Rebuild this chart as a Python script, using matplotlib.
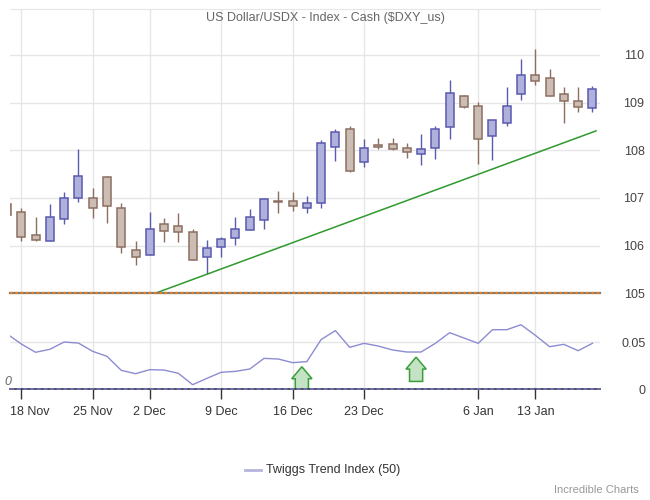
import numpy as np
import pandas as pd
import matplotlib
matplotlib.use("Agg")
import matplotlib.pyplot as plt
import matplotlib.transforms as mtransforms
from matplotlib.patches import FancyArrow

plt.rcParams['font.family'] = ['Liberation Sans', 'DejaVu Sans']

TITLE = "US Dollar/USDX - Index - Cash (\\$DXY_us)"

dates = ["2024-11-15", "2024-11-18", "2024-11-19", "2024-11-20", "2024-11-21", "2024-11-22",
         "2024-11-25", "2024-11-26", "2024-11-27", "2024-11-29",
         "2024-12-02", "2024-12-03", "2024-12-04", "2024-12-05", "2024-12-06",
         "2024-12-09", "2024-12-10", "2024-12-11", "2024-12-12", "2024-12-13",
         "2024-12-16", "2024-12-17", "2024-12-18", "2024-12-19", "2024-12-20",
         "2024-12-23", "2024-12-24", "2024-12-26", "2024-12-27",
         "2024-12-30", "2024-12-31", "2025-01-02", "2025-01-03",
         "2025-01-06", "2025-01-07", "2025-01-08", "2025-01-10",
         "2025-01-13", "2025-01-14", "2025-01-15", "2025-01-16", "2025-01-17"]

opens = [106.87, 106.70, 106.22, 106.09, 106.55, 107.01, 106.99, 107.43, 106.78, 105.91,
         105.80, 106.45, 106.41, 106.28, 105.76, 105.97, 106.15, 106.32, 106.53, 106.93,
         106.93, 106.78, 106.89, 108.06, 108.44, 107.75, 108.11, 108.13, 108.04, 107.92,
         108.04, 108.48, 109.15, 108.92, 108.29, 108.57, 109.18, 109.57, 109.51, 109.18,
         109.03, 108.88]
highs = [106.95, 106.78, 106.60, 106.87, 107.13, 108.03, 107.20, 107.46, 106.89, 106.10,
         106.71, 106.57, 106.69, 106.34, 106.12, 106.18, 106.60, 106.77, 107.01, 107.15,
         107.13, 107.04, 108.22, 108.44, 108.50, 108.23, 108.25, 108.25, 108.15, 108.34,
         108.52, 109.48, 109.17, 109.01, 108.63, 109.32, 109.91, 110.12, 109.70, 109.32,
         109.32, 109.34]
lows = [106.55, 106.10, 106.09, 106.09, 106.45, 106.91, 106.57, 106.48, 105.84, 105.59,
        105.80, 106.07, 106.08, 105.69, 105.40, 105.77, 106.02, 106.32, 106.34, 106.69,
        106.72, 106.68, 106.80, 107.78, 107.55, 107.66, 108.02, 108.00, 107.83, 107.70,
        107.82, 108.23, 108.88, 107.72, 107.80, 108.52, 109.05, 109.36, 109.13, 108.57,
        108.80, 108.80]
closes = [106.64, 106.19, 106.11, 106.60, 106.99, 107.46, 106.80, 106.84, 105.98, 105.76,
          106.34, 106.30, 106.28, 105.69, 105.94, 106.13, 106.34, 106.60, 106.97, 106.91,
          106.83, 106.89, 108.15, 108.38, 107.57, 108.04, 108.08, 108.02, 107.96, 108.02,
          108.44, 109.20, 108.90, 108.23, 108.63, 108.94, 109.59, 109.45, 109.14, 109.03,
          108.90, 109.28]

# Twiggs Trend Index (50)
tti = [0.0590, 0.0482, 0.0393, 0.0425, 0.0503, 0.0492, 0.0403, 0.0350, 0.0200, 0.0164,
       0.0207, 0.0203, 0.0168, 0.0046, 0.0114, 0.0179, 0.0189, 0.0214, 0.0328, 0.0321,
       0.0282, 0.0293, 0.0530, 0.0625, 0.0446, 0.0489, 0.0460, 0.0418, 0.0396, 0.0396,
       0.0489, 0.0603, 0.0546, 0.0489, 0.0635, 0.0635, 0.0688, 0.0575, 0.0453, 0.0478,
       0.0410, 0.0489]

tick_dates = ["2024-11-18", "2024-11-25", "2024-12-02", "2024-12-09", "2024-12-16",
              "2024-12-23", "2025-01-06", "2025-01-13"]
signal_dates = ["2024-12-17", "2024-12-30"]

# trendline anchors (date, price)
trend_pts = [("2024-12-06", 105.40), ("2025-01-17", 108.38)]
support_level = 105.0

price_ticks = [105, 106, 107, 108, 109, 110]
tti_ticks = [0, 0.05]

UP_FILL, UP_EDGE = "#b0b0dd", "#5a5aae"
DN_FILL, DN_EDGE = "#cbbdb4", "#8c6f60"
GRID = "#e6e6e6"

idx = {d: i for i, d in enumerate(dates)}
x = np.arange(len(dates))
o, h, l, c = map(np.asarray, (opens, highs, lows, closes))
up = c >= o

fig = plt.figure(figsize=(6.5, 5), dpi=100)
ax = fig.add_axes([10 / 650, 1 - 293.3 / 500, 590 / 650, 284.3 / 500])
ax2 = fig.add_axes([10 / 650, 1 - 389 / 500, 590 / 650, 93.4 / 500], sharex=ax)

xlim = (0.21, 41.53)
tick_pos = [idx[d] for d in tick_dates]

# --- price panel
for a in (ax, ax2):
    for t in tick_pos:
        a.axvline(t, color=GRID, lw=1, zorder=0)
for p in price_ticks[1:]:
    ax.axhline(p, color=GRID, lw=1, zorder=0)

ax.vlines(x[up], l[up], h[up], color=UP_EDGE, lw=1, zorder=2)
ax.vlines(x[~up], l[~up], h[~up], color=DN_EDGE, lw=1, zorder=2)
body_lo = np.minimum(o, c)
body_h = np.maximum(np.abs(c - o), 0.01)
ax.bar(x[up], body_h[up], 0.56, bottom=body_lo[up], color=UP_FILL,
       edgecolor=UP_EDGE, lw=1.1, zorder=3)
ax.bar(x[~up], body_h[~up], 0.56, bottom=body_lo[~up], color=DN_FILL,
       edgecolor=DN_EDGE, lw=1.1, zorder=3)

(d0, p0), (d1, p1) = trend_pts
slope = (p1 - p0) / (idx[d1] - idx[d0])
tx0 = idx[d0] + (support_level - p0) / slope
tx = np.array([tx0, 41.25])
ax.plot(tx, p0 + slope * (tx - idx[d0]), color="#2e9a2e", lw=1.1, zorder=4)

ax.axhline(support_level, color="#7a7a7a", lw=1.6, zorder=5, clip_on=False)
ax.axhline(support_level, color="#e8801e", lw=1.6, ls=(0, (1.2, 1.2)), zorder=6, clip_on=False)

ax.set_xlim(*xlim)
ax.set_ylim(105, 110.965)
ax.set_yticks(price_ticks)
ax.yaxis.tick_right()
ax.tick_params(axis='y', length=0, pad=32, labelsize=9, labelcolor="#444")
for lab in ax.get_yticklabels():
    lab.set_ha('right')
ax.tick_params(axis='x', length=0, labelbottom=False)
for s in ("left", "right", "bottom"):
    ax.spines[s].set_visible(False)
ax.spines["top"].set_color(GRID)

ax.text(0.5, 1 - 18 / 500, TITLE, transform=fig.transFigure, ha='center', va='center',
        fontsize=9, color="#666")

# --- indicator panel
ax2.axhline(0.05, color=GRID, lw=1, zorder=0)
ax2.plot(x, tti, color="#8c8cd2", lw=1, zorder=3)

tti_arr = np.asarray(tti)
for d in signal_dates:
    i = idx[d]
    tip = tti_arr[i] - 0.0055
    arr = FancyArrow(i - 0.35, tip - 0.026, 0, 0.026, width=0.92, head_width=1.42,
                     head_length=0.0128, length_includes_head=True,
                     facecolor="#c4e3c4", edgecolor="#3a9e3a", lw=1.1, zorder=4)
    ax2.add_patch(arr)

ax2.axhline(0, color="#333", lw=1.2, zorder=5, clip_on=False)
ax2.axhline(0, color="#7272c8", lw=1.2, ls=(0, (2.5, 1.5)), zorder=6, clip_on=False)

ax2.set_ylim(0, 0.1)
ax2.set_yticks(tti_ticks)
ax2.set_yticklabels(["0", "0.05"])
ax2.yaxis.tick_right()
ax2.tick_params(axis='y', length=0, pad=33, labelsize=9, labelcolor="#444")
for lab in ax2.get_yticklabels():
    lab.set_ha('right')

ax2.set_xticks(tick_pos)
ax2.set_xticklabels([pd.Timestamp(d).strftime("%-d %b") for d in tick_dates])
ax2.tick_params(axis='x', length=7, width=1, color="#333", pad=5, labelsize=9,
                labelcolor="#333")
first = ax2.get_xticklabels()[0]
first.set_ha('left')
first.set_transform(first.get_transform() +
                    mtransforms.ScaledTranslation(-11.3 / 100, 0, fig.dpi_scale_trans))
for s in ax2.spines.values():
    s.set_visible(False)

ax2.text(4 / 650, 1 - 388 / 500, "0", transform=fig.transFigure, ha='left', va='bottom',
         fontsize=9, style='italic', color="#666")

# legend + credit
fig.add_artist(plt.Line2D([245 / 650, 261 / 650], [1 - 470 / 500] * 2, color="#b4b4de", lw=2))
fig.text(266 / 650, 1 - 470 / 500, "Twiggs Trend Index (50)", ha='left', va='center',
         fontsize=9, color="#333")
fig.text(639 / 650, 1 - 490 / 500, "Incredible Charts", ha='right', va='center',
         fontsize=8, color="#999")

fig.savefig("out.png", dpi=100)
